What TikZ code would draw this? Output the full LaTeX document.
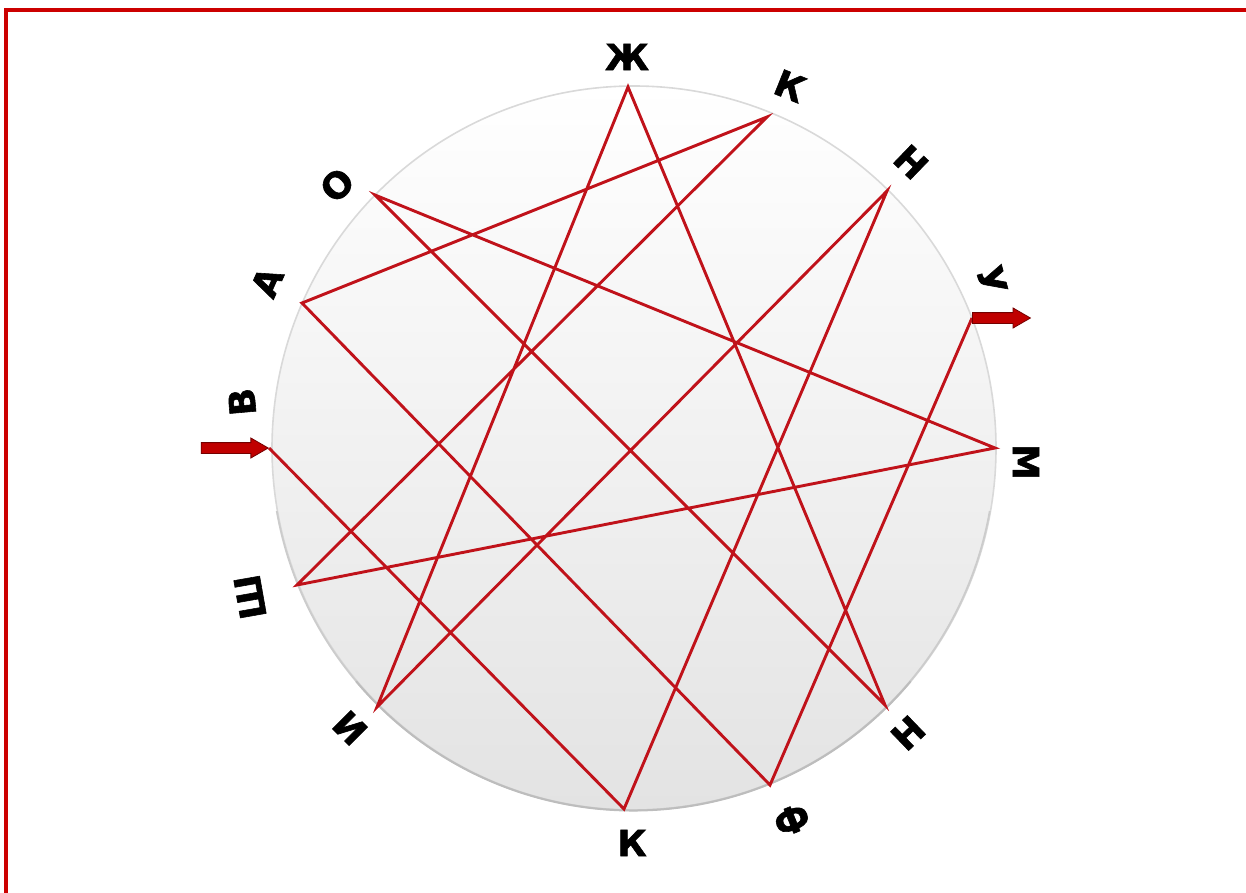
\documentclass[tikz,border=0pt]{standalone}
\usepackage{fontspec}
\setmainfont{DejaVu Sans}
\newfontfamily\heavyfont{DejaVu Sans Bold}[FakeBold=1.6]
\usetikzlibrary{shapes.arrows}
\definecolor{pathred}{RGB}{192,18,26}
\definecolor{framered}{RGB}{204,0,0}
\definecolor{arrowred}{RGB}{192,0,0}

\begin{document}
\begin{tikzpicture}[x=0.5pt,y=-0.5pt,
  letter/.style={font=\heavyfont\fontsize{18}{18}\selectfont, inner sep=0pt},
  chord/.style={draw=pathred, line width=1.45pt},
  blockarrow/.style={single arrow, fill=arrowred, draw=arrowred!60!black, line width=0.4pt,
    inner sep=2.5pt, single arrow head extend=2.3pt, single arrow tip angle=60}]
\useasboundingbox (0,0) rectangle (1246,893);
\draw[framered, line width=1.6pt] (6,893) -- (6,10) -- (1246,10);

\node[circle, draw=gray!30, line width=0.8pt, top color=white, bottom color=gray!22,
  minimum size=362pt, inner sep=0pt] (disc) at (634,448) {};
\draw[gray!40, line width=0.9pt] (disc.190) arc[start angle=170, end angle=10, radius=362];
\draw[gray!52, line width=1pt] (disc.220) arc[start angle=140, end angle=40, radius=362];

\coordinate (zh) at (628,87);
\coordinate (k1) at (767,117);
\coordinate (n1) at (887,191);
\coordinate (u) at (972,318);
\coordinate (m) at (995,448);
\coordinate (n2) at (885,705);
\coordinate (f) at (770,785);
\coordinate (k2) at (624,809);
\coordinate (i) at (377,707);
\coordinate (sh) at (297,585);
\coordinate (v) at (269,448);
\coordinate (a) at (302,303);
\coordinate (o) at (375,195);

\node[letter] (lzh) at (627,57) {Ж};
\node[letter, rotate=-22] (lk1) at (790,86) {К};
\node[letter, rotate=-44] (ln1) at (911,162) {Н};
\node[letter, rotate=-75] (lu) at (992,280) {У};
\node[letter, rotate=-90] (lm) at (1026,462) {М};
\node[letter, rotate=44] (ln2) at (908,733) {Н};
\node[letter, rotate=22] (lf) at (792,820) {Ф};
\node[letter] (lk2) at (632,843) {К};
\node[letter, rotate=-45] (li) at (350,728) {И};
\node[letter, rotate=100] (lsh) at (250,597) {Ш};
\node[letter, rotate=95] (lv) at (242,402) {В};
\node[letter, rotate=66] (la) at (267,282) {А};
\node[letter, rotate=45] (lo) at (337,185) {О};

\draw[chord] (v) -- (k2) -- (n1) -- (i) -- (zh) -- (n2) -- (o) -- (m) -- (sh) -- (k1) -- (a) -- (f) -- (u);

\node[blockarrow, minimum height=33.5pt, anchor=tip] (inarrow) at (v) {};
\node[blockarrow, minimum height=29pt, anchor=tail] (outarrow) at (u) {};
\end{tikzpicture}
\end{document}
